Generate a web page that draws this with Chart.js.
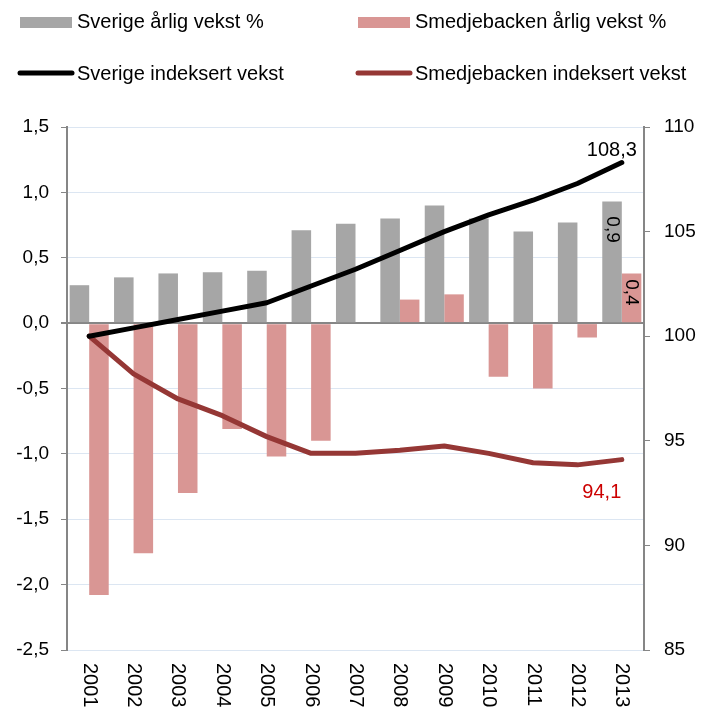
<!DOCTYPE html>
<html>
<head>
<meta charset="utf-8">
<script src="https://cdn.jsdelivr.net/npm/chart.js@4.4.0/dist/chart.umd.min.js"></script>
<style>
  body { margin: 0; background: #fff; }
  canvas { display: block; }
</style>
</head>
<body>
<canvas id="vekst" width="701" height="707"></canvas>
<script>
// years on the x axis
const years = ['2001', '2002', '2003', '2004', '2005', '2006', '2007', '2008', '2009', '2010', '2011', '2012', '2013'];

// annual growth %, left axis
const sverigeArlig = [0.29, 0.35, 0.38, 0.39, 0.40, 0.71, 0.76, 0.80, 0.90, 0.80, 0.70, 0.77, 0.93];
const smedjebackenArlig = [-2.08, -1.76, -1.30, -0.81, -1.02, -0.90, 0, 0.18, 0.22, -0.41, -0.50, -0.11, 0.38];

// indexed growth (2001 = 100), right axis
const sverigeIndeks = [100, 100.4, 100.8, 101.2, 101.6, 102.4, 103.2, 104.1, 105.0, 105.8, 106.5, 107.3, 108.3];
const smedjebackenIndeks = [100, 98.2, 97.0, 96.2, 95.2, 94.4, 94.4, 94.55, 94.75, 94.4, 93.95, 93.85, 94.1];

const leftTicks = { min: -2.5, max: 1.5, step: 0.5 };
const rightTicks = { min: 85, max: 110, step: 5 };

const FONT = '"Liberation Sans", Arial, sans-serif';
const komma = (v, d) => v.toFixed(d).replace('.', ',');

// legend in two fixed columns, like the original
const legendPlugin = {
  id: 'legendGrid',
  afterDraw(chart) {
    const ctx = chart.ctx;
    const ds = chart.data.datasets;
    const slots = [
      { i: 0, x: 20, y: 28 }, { i: 1, x: 358, y: 28 },
      { i: 2, x: 18, y: 80 }, { i: 3, x: 356, y: 80 }
    ];
    ctx.save();
    ctx.font = '20px ' + FONT;
    ctx.textBaseline = 'alphabetic';
    ctx.textAlign = 'left';
    slots.forEach(s => {
      const d = ds[s.i];
      if (d.type === 'line') {
        ctx.strokeStyle = d.borderColor;
        ctx.lineWidth = 5;
        ctx.lineCap = 'round';
        ctx.beginPath();
        ctx.moveTo(s.x + 2, s.y - 7);
        ctx.lineTo(s.x + 54, s.y - 7);
        ctx.stroke();
      } else {
        ctx.fillStyle = d.backgroundColor;
        ctx.fillRect(s.x, s.y - 11, 52, 11);
      }
      ctx.fillStyle = '#000';
      ctx.fillText(d.label, s.x + (d.type === 'line' ? 59 : 57), s.y);
    });
    ctx.restore();
  }
};

// x labels turned clockwise, hanging below the axis
const yearLabels = {
  id: 'yearLabels',
  afterDraw(chart) {
    const ctx = chart.ctx;
    const xs = chart.scales.x;
    ctx.save();
    ctx.font = '20px ' + FONT;
    ctx.fillStyle = '#000';
    ctx.textAlign = 'left';
    ctx.textBaseline = 'middle';
    chart.data.labels.forEach((lab, i) => {
      ctx.save();
      ctx.translate(xs.getPixelForTick(i), chart.chartArea.bottom + 13);
      ctx.rotate(Math.PI / 2);
      ctx.fillText(lab, 0, 0);
      ctx.restore();
    });
    ctx.restore();
  }
};

// value labels on the last year
const endLabels = {
  id: 'endLabels',
  afterDatasetsDraw(chart) {
    const ctx = chart.ctx;
    const last = years.length - 1;
    ctx.save();

    ctx.font = '20px ' + FONT;
    ctx.textAlign = 'center';
    ctx.textBaseline = 'alphabetic';
    let p = chart.getDatasetMeta(2).data[last];
    ctx.fillStyle = '#000';
    ctx.fillText(komma(sverigeIndeks[last], 1), p.x - 10, p.y - 7);
    p = chart.getDatasetMeta(3).data[last];
    ctx.fillStyle = '#cc0000';
    ctx.fillText(komma(smedjebackenIndeks[last], 1), p.x - 20, p.y + 38);

    // rotated labels inside the 2013 bars
    ctx.font = '19px ' + FONT;
    ctx.fillStyle = '#000';
    ctx.textBaseline = 'middle';
    [[0, sverigeArlig, 28], [1, smedjebackenArlig, 19]].forEach(([di, vals, off]) => {
      const b = chart.getDatasetMeta(di).data[last];
      ctx.save();
      ctx.translate(b.x, b.y + off);
      ctx.rotate(Math.PI / 2);
      ctx.fillText(komma(vals[last], 1), 0, 0);
      ctx.restore();
    });
    ctx.restore();
  }
};

new Chart(document.getElementById('vekst'), {
  type: 'bar',
  data: {
    labels: years,
    datasets: [
      { label: 'Sverige årlig vekst %', data: sverigeArlig, backgroundColor: '#a6a6a6', yAxisID: 'y', order: 2,
        categoryPercentage: 0.88, barPercentage: 1 },
      { label: 'Smedjebacken årlig vekst %', data: smedjebackenArlig, backgroundColor: '#d99694', yAxisID: 'y', order: 2,
        categoryPercentage: 0.88, barPercentage: 1 },
      { type: 'line', label: 'Sverige indeksert vekst', data: sverigeIndeks, borderColor: '#000000', borderWidth: 5,
        pointRadius: 0, tension: 0, borderCapStyle: 'round', borderJoinStyle: 'round', yAxisID: 'y2', order: 1 },
      { type: 'line', label: 'Smedjebacken indeksert vekst', data: smedjebackenIndeks, borderColor: '#953735', borderWidth: 5,
        pointRadius: 0, tension: 0, borderCapStyle: 'round', borderJoinStyle: 'round', yAxisID: 'y2', order: 1 }
    ]
  },
  options: {
    responsive: false,
    animation: false,
    events: [],
    layout: { padding: { top: 127, left: 0, right: 0, bottom: 0 } },
    plugins: { legend: { display: false }, tooltip: { enabled: false } },
    scales: {
      x: {
        grid: { display: false },
        border: { display: false },
        ticks: { display: false },
        afterFit: s => { s.height = 57; }
      },
      y: {
        position: 'left',
        min: leftTicks.min, max: leftTicks.max,
        ticks: { stepSize: leftTicks.step, color: '#000', padding: 12, font: { family: FONT, size: 19 },
                 callback: v => komma(v, 1) },
        grid: {
          color: c => (c.tick && c.tick.value === 0) ? '#868686' : '#dce6f2',
          lineWidth: c => (c.tick && c.tick.value === 0) ? 2 : 1,
          tickColor: '#868686', tickLength: 6
        },
        border: { color: '#868686', width: 2 },
        afterFit: s => { s.width = 67; }
      },
      y2: {
        position: 'right',
        min: rightTicks.min, max: rightTicks.max,
        ticks: { stepSize: rightTicks.step, color: '#000', padding: 14, font: { family: FONT, size: 19 } },
        grid: { drawOnChartArea: false, tickColor: '#868686', tickLength: 6 },
        border: { color: '#868686', width: 2 },
        afterFit: s => { s.width = 57; }
      }
    }
  },
  plugins: [legendPlugin, yearLabels, endLabels]
});
</script>
</body>
</html>
